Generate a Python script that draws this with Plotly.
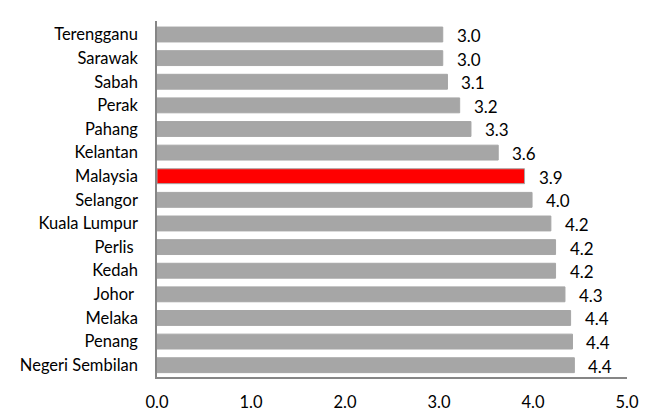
import plotly.graph_objects as go

categories = ["Terengganu", "Sarawak", "Sabah", "Perak", "Pahang", "Kelantan",
              "Malaysia", "Selangor", "Kuala Lumpur", "Perlis ", "Kedah", "Johor ",
              "Melaka", "Penang", "Negeri Sembilan"]
values = [3.04, 3.04, 3.09, 3.22, 3.34, 3.63, 3.91, 3.99, 4.19, 4.24, 4.24, 4.34,
          4.40, 4.42, 4.44]
highlight = "Malaysia"
x_ticks = [0, 1, 2, 3, 4, 5]
x_tick_labels = ["0.0", "1.0", "2.0", "3.0", "4.0", "5.0"]

GRAY = "#A6A6A6"
RED = "#FF0000"
colors = [RED if c == highlight else GRAY for c in categories]
FONT = "Lato"

fig = go.Figure()
fig.add_trace(go.Bar(
    x=values, y=categories, orientation="h",
    marker=dict(color=colors, line=dict(color=GRAY, width=1)),
    hoverinfo="skip",
))

for c, v in zip(categories, values):
    fig.add_annotation(x=v, y=c, xref="x", yref="y", text=f"{v:.1f}",
                       showarrow=False, xanchor="left", yanchor="middle",
                       xshift=12, yshift=-1,
                       font=dict(family=FONT, size=17, color="#000"))

fig.update_layout(
    width=660, height=413,
    margin=dict(l=157, r=33, t=21, b=36),
    paper_bgcolor="white", plot_bgcolor="white",
    showlegend=False, bargap=0.37,
    font=dict(family=FONT, color="#000"),
)
fig.update_xaxes(range=[0, 5], tickvals=x_ticks, ticktext=x_tick_labels,
                 showgrid=False, zeroline=False, showline=True,
                 linecolor="#868686", linewidth=1.5, automargin=False,
                 ticks="", ticklabelstandoff=9,
                 tickfont=dict(family=FONT, size=16.5, color="#000"))
fig.update_yaxes(autorange="reversed", showgrid=False, zeroline=False,
                 showline=True, linecolor="#868686", linewidth=1.5,
                 automargin=False, ticks="", ticklabelstandoff=14,
                 tickfont=dict(family=FONT, size=16.5, color="#000"))

fig.write_html("out.html")
